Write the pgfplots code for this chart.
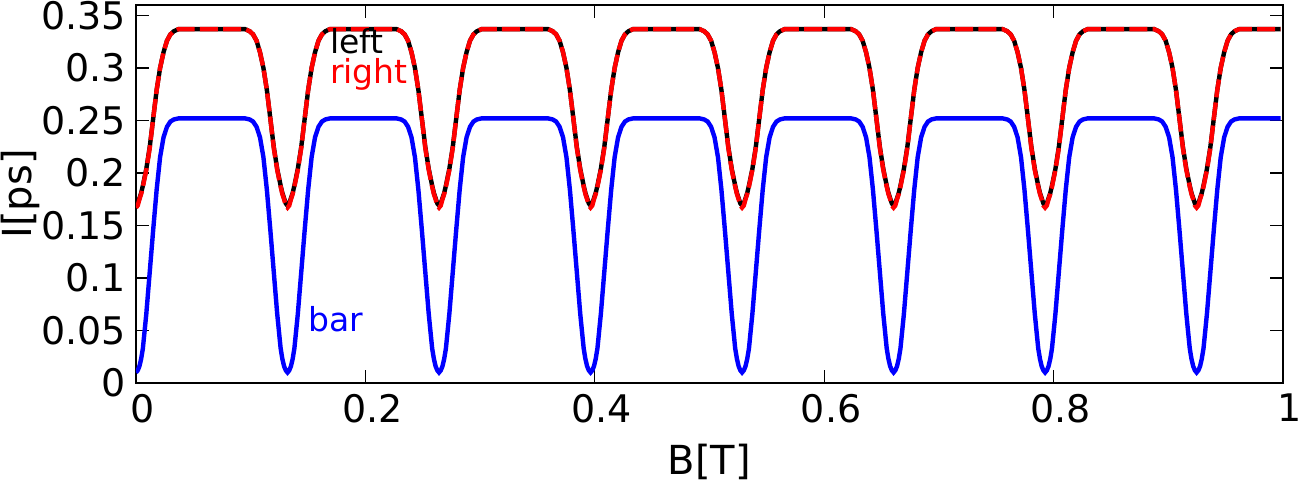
\documentclass[border=0pt]{standalone}
\usepackage{fontspec}
\setmainfont{DejaVu Sans}
\usepackage{pgfplots}
\pgfplotsset{compat=1.18}
\usepackage{pgfplotstable}

% B[T]  left  right  bar
\pgfplotstableread{
x L R B
0.0000 0.169 0.167 0.010
0.0015 0.171 0.169 0.012
0.0030 0.176 0.175 0.016
0.0045 0.181 0.180 0.023
0.0060 0.188 0.187 0.033
0.0090 0.204 0.203 0.066
0.0120 0.225 0.224 0.106
0.0150 0.252 0.252 0.146
0.0180 0.279 0.279 0.184
0.0210 0.300 0.300 0.215
0.0240 0.315 0.315 0.234
0.0270 0.326 0.326 0.244
0.0300 0.332 0.332 0.249
0.0330 0.335 0.335 0.251
0.0370 0.337 0.337 0.252
0.0951 0.337 0.337 0.252
0.0991 0.335 0.335 0.251
0.1021 0.332 0.332 0.249
0.1051 0.326 0.326 0.244
0.1081 0.315 0.315 0.234
0.1111 0.300 0.300 0.215
0.1141 0.279 0.279 0.184
0.1171 0.252 0.252 0.146
0.1201 0.225 0.224 0.106
0.1231 0.204 0.203 0.066
0.1261 0.188 0.187 0.033
0.1276 0.181 0.180 0.023
0.1291 0.176 0.175 0.016
0.1306 0.171 0.169 0.012
0.1321 0.169 0.167 0.010
0.1336 0.171 0.169 0.012
0.1351 0.176 0.175 0.016
0.1366 0.181 0.180 0.023
0.1381 0.188 0.187 0.033
0.1411 0.204 0.203 0.066
0.1441 0.225 0.224 0.106
0.1471 0.252 0.252 0.146
0.1501 0.279 0.279 0.184
0.1531 0.300 0.300 0.215
0.1561 0.315 0.315 0.234
0.1591 0.326 0.326 0.244
0.1621 0.332 0.332 0.249
0.1651 0.335 0.335 0.251
0.1691 0.337 0.337 0.252
0.2272 0.337 0.337 0.252
0.2312 0.335 0.335 0.251
0.2342 0.332 0.332 0.249
0.2372 0.326 0.326 0.244
0.2402 0.315 0.315 0.234
0.2432 0.300 0.300 0.215
0.2462 0.279 0.279 0.184
0.2492 0.252 0.252 0.146
0.2522 0.225 0.224 0.106
0.2552 0.204 0.203 0.066
0.2582 0.188 0.187 0.033
0.2597 0.181 0.180 0.023
0.2612 0.176 0.175 0.016
0.2627 0.171 0.169 0.012
0.2642 0.169 0.167 0.010
0.2657 0.171 0.169 0.012
0.2672 0.176 0.175 0.016
0.2687 0.181 0.180 0.023
0.2702 0.188 0.187 0.033
0.2732 0.204 0.203 0.066
0.2762 0.225 0.224 0.106
0.2792 0.252 0.252 0.146
0.2822 0.279 0.279 0.184
0.2852 0.300 0.300 0.215
0.2882 0.315 0.315 0.234
0.2912 0.326 0.326 0.244
0.2942 0.332 0.332 0.249
0.2972 0.335 0.335 0.251
0.3012 0.337 0.337 0.252
0.3593 0.337 0.337 0.252
0.3633 0.335 0.335 0.251
0.3663 0.332 0.332 0.249
0.3693 0.326 0.326 0.244
0.3723 0.315 0.315 0.234
0.3753 0.300 0.300 0.215
0.3783 0.279 0.279 0.184
0.3813 0.252 0.252 0.146
0.3843 0.225 0.224 0.106
0.3873 0.204 0.203 0.066
0.3903 0.188 0.187 0.033
0.3918 0.181 0.180 0.023
0.3933 0.176 0.175 0.016
0.3948 0.171 0.169 0.012
0.3963 0.169 0.167 0.010
0.3978 0.171 0.169 0.012
0.3993 0.176 0.175 0.016
0.4008 0.181 0.180 0.023
0.4023 0.188 0.187 0.033
0.4053 0.204 0.203 0.066
0.4083 0.225 0.224 0.106
0.4113 0.252 0.252 0.146
0.4143 0.279 0.279 0.184
0.4173 0.300 0.300 0.215
0.4203 0.315 0.315 0.234
0.4233 0.326 0.326 0.244
0.4263 0.332 0.332 0.249
0.4293 0.335 0.335 0.251
0.4333 0.337 0.337 0.252
0.4914 0.337 0.337 0.252
0.4954 0.335 0.335 0.251
0.4984 0.332 0.332 0.249
0.5014 0.326 0.326 0.244
0.5044 0.315 0.315 0.234
0.5074 0.300 0.300 0.215
0.5104 0.279 0.279 0.184
0.5134 0.252 0.252 0.146
0.5164 0.225 0.224 0.106
0.5194 0.204 0.203 0.066
0.5224 0.188 0.187 0.033
0.5239 0.181 0.180 0.023
0.5254 0.176 0.175 0.016
0.5269 0.171 0.169 0.012
0.5284 0.169 0.167 0.010
0.5299 0.171 0.169 0.012
0.5314 0.176 0.175 0.016
0.5329 0.181 0.180 0.023
0.5344 0.188 0.187 0.033
0.5374 0.204 0.203 0.066
0.5404 0.225 0.224 0.106
0.5434 0.252 0.252 0.146
0.5464 0.279 0.279 0.184
0.5494 0.300 0.300 0.215
0.5524 0.315 0.315 0.234
0.5554 0.326 0.326 0.244
0.5584 0.332 0.332 0.249
0.5614 0.335 0.335 0.251
0.5654 0.337 0.337 0.252
0.6235 0.337 0.337 0.252
0.6275 0.335 0.335 0.251
0.6305 0.332 0.332 0.249
0.6335 0.326 0.326 0.244
0.6365 0.315 0.315 0.234
0.6395 0.300 0.300 0.215
0.6425 0.279 0.279 0.184
0.6455 0.252 0.252 0.146
0.6485 0.225 0.224 0.106
0.6515 0.204 0.203 0.066
0.6545 0.188 0.187 0.033
0.6560 0.181 0.180 0.023
0.6575 0.176 0.175 0.016
0.6590 0.171 0.169 0.012
0.6605 0.169 0.167 0.010
0.6620 0.171 0.169 0.012
0.6635 0.176 0.175 0.016
0.6650 0.181 0.180 0.023
0.6665 0.188 0.187 0.033
0.6695 0.204 0.203 0.066
0.6725 0.225 0.224 0.106
0.6755 0.252 0.252 0.146
0.6785 0.279 0.279 0.184
0.6815 0.300 0.300 0.215
0.6845 0.315 0.315 0.234
0.6875 0.326 0.326 0.244
0.6905 0.332 0.332 0.249
0.6935 0.335 0.335 0.251
0.6975 0.337 0.337 0.252
0.7556 0.337 0.337 0.252
0.7596 0.335 0.335 0.251
0.7626 0.332 0.332 0.249
0.7656 0.326 0.326 0.244
0.7686 0.315 0.315 0.234
0.7716 0.300 0.300 0.215
0.7746 0.279 0.279 0.184
0.7776 0.252 0.252 0.146
0.7806 0.225 0.224 0.106
0.7836 0.204 0.203 0.066
0.7866 0.188 0.187 0.033
0.7881 0.181 0.180 0.023
0.7896 0.176 0.175 0.016
0.7911 0.171 0.169 0.012
0.7926 0.169 0.167 0.010
0.7941 0.171 0.169 0.012
0.7956 0.176 0.175 0.016
0.7971 0.181 0.180 0.023
0.7986 0.188 0.187 0.033
0.8016 0.204 0.203 0.066
0.8046 0.225 0.224 0.106
0.8076 0.252 0.252 0.146
0.8106 0.279 0.279 0.184
0.8136 0.300 0.300 0.215
0.8166 0.315 0.315 0.234
0.8196 0.326 0.326 0.244
0.8226 0.332 0.332 0.249
0.8256 0.335 0.335 0.251
0.8296 0.337 0.337 0.252
0.8877 0.337 0.337 0.252
0.8917 0.335 0.335 0.251
0.8947 0.332 0.332 0.249
0.8977 0.326 0.326 0.244
0.9007 0.315 0.315 0.234
0.9037 0.300 0.300 0.215
0.9067 0.279 0.279 0.184
0.9097 0.252 0.252 0.146
0.9127 0.225 0.224 0.106
0.9157 0.204 0.203 0.066
0.9187 0.188 0.187 0.033
0.9202 0.181 0.180 0.023
0.9217 0.176 0.175 0.016
0.9232 0.171 0.169 0.012
0.9247 0.169 0.167 0.010
0.9262 0.171 0.169 0.012
0.9277 0.176 0.175 0.016
0.9292 0.181 0.180 0.023
0.9307 0.188 0.187 0.033
0.9337 0.204 0.203 0.066
0.9367 0.225 0.224 0.106
0.9397 0.252 0.252 0.146
0.9427 0.279 0.279 0.184
0.9457 0.300 0.300 0.215
0.9487 0.315 0.315 0.234
0.9517 0.326 0.326 0.244
0.9547 0.332 0.332 0.249
0.9577 0.335 0.335 0.251
0.9617 0.337 0.337 0.252
0.9980 0.337 0.337 0.252
}\currents

\begin{document}
\begin{tikzpicture}
\path[use as bounding box] (-68pt,-50.5pt) rectangle (583.5pt,191.5pt);
\begin{axis}[
  at={(0,0)}, anchor=south west,
  scale only axis, width=573.5pt, height=189pt,
  xmin=0, xmax=1, ymin=0, ymax=0.36,
  xtick={0,0.2,0.4,0.6,0.8,1},
  ytick={0,0.05,0.1,0.15,0.2,0.25,0.3,0.35},
  tick align=inside, major tick length=6.5pt,
  xtick pos=both, ytick pos=both,
  axis line style={line width=1pt},
  every tick/.style={black, line width=0.6pt},
  tick label style={font=\fontsize{19}{21}\selectfont},
  /pgf/number format/assume math mode=true,
  /pgf/number format/fixed,
  /pgf/number format/precision=2,
  xticklabel style={xshift=3.5pt, yshift=-2pt},
  yticklabel style={xshift=-1.5pt},
  xlabel={B[T]}, ylabel={I[ps]},
  label style={font=\fontsize{20}{22}\selectfont},
  xlabel style={at={(axis description cs:0.5,-0.209)}, anchor=center},
  ylabel style={at={(axis description cs:-0.101,0.5)}, anchor=center},
]
\addplot[black, line width=2.2pt] table[x=x, y=L] {\currents};
\addplot[red, line width=2.2pt, dash pattern=on 9pt off 2.6pt] table[x=x, y=R] {\currents};
\addplot[blue, line width=2.2pt] table[x=x, y=B] {\currents};
\node[anchor=base west, inner sep=0pt, black, font=\fontsize{16.5}{18}\selectfont] at (axis cs:0.169,0.314) {left};
\node[anchor=base west, inner sep=0pt, red, font=\fontsize{16.5}{18}\selectfont] at (axis cs:0.169,0.2854) {right};
\node[anchor=base west, inner sep=0pt, blue, font=\fontsize{16.5}{18}\selectfont] at (axis cs:0.150,0.0488) {bar};
\end{axis}
\end{tikzpicture}
\end{document}
